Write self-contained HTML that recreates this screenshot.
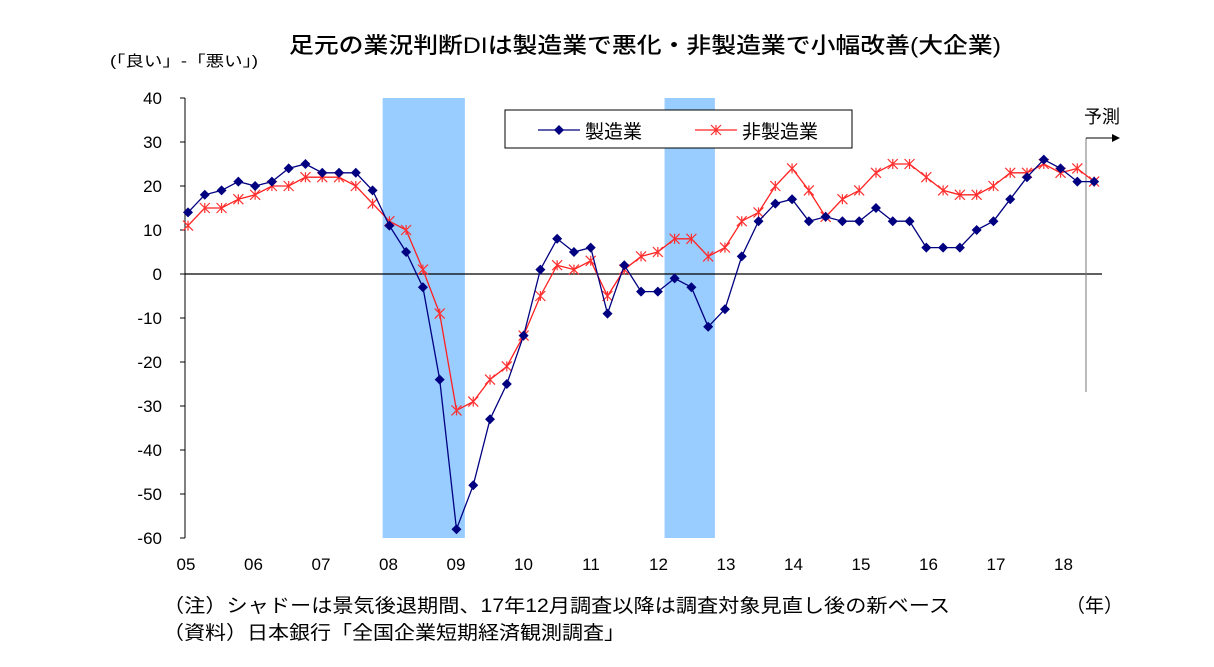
<!DOCTYPE html>
<html><head><meta charset="utf-8"><style>
body{margin:0;background:#fff;width:1214px;height:662px;overflow:hidden;font-family:"Liberation Sans","Noto Sans CJK JP",sans-serif}
</style></head><body>
<svg id="c" width="1214" height="662" xmlns="http://www.w3.org/2000/svg" font-family="Liberation Sans, Noto Sans CJK JP, sans-serif">
<text x="645" y="53" text-anchor="middle" font-size="22" font-weight="500" textLength="712" lengthAdjust="spacingAndGlyphs" fill="#000">足元の業況判断DIは製造業で悪化・非製造業で小幅改善(大企業)</text>
<text x="110" y="66" font-size="15" textLength="148" lengthAdjust="spacingAndGlyphs" fill="#000">(「良い」-「悪い」)</text>
<g id="plot"></g>
<text x="163" y="612" font-size="19" textLength="787" lengthAdjust="spacingAndGlyphs" fill="#000">（注）シャドーは景気後退期間、17年12月調査以降は調査対象見直し後の新ベース</text>
<text x="163" y="639" font-size="19" textLength="462" lengthAdjust="spacingAndGlyphs" fill="#000">（資料）日本銀行「全国企業短期経済観測調査」</text>
<text x="1066" y="612" font-size="19" fill="#000">（年）</text>
</svg>
<script>
const mfg=[14,18,19,21,20,21,24,25,23,23,23,19,11,5,-3,-24,-58,-48,-33,-25,-14,1,8,5,6,-9,2,-4,-4,-1,-3,-12,-8,4,12,16,17,12,13,12,12,15,12,12,6,6,6,10,12,17,22,26,24,21,21];
const nonMfg=[11,15,15,17,18,20,20,22,22,22,20,16,12,10,1,-9,-31,-29,-24,-21,-14,-5,2,1,3,-5,1,4,5,8,8,4,6,12,14,20,24,19,13,17,19,23,25,25,22,19,18,18,20,23,23,25,23,24,21];
const yTicks=[40,30,20,10,0,-10,-20,-30,-40,-50,-60];
const xLabels=["05","06","07","08","09","10","11","12","13","14","15","16","17","18"];
const shadows=[[11.6,16.5],[28.4,31.4]];
const NS="http://www.w3.org/2000/svg";
const g=document.getElementById('plot');
const y=v=>274-v*4.4;
const x=i=>188+i*16.78;
const yx=k=>186+k*67.5;
function el(t,a,p){const e=document.createElementNS(NS,t);for(const k in a)e.setAttribute(k,a[k]);(p||g).appendChild(e);return e;}
shadows.forEach(s=>{const r=el('rect',{x:x(s[0]),y:98,width:x(s[1])-x(s[0]),height:440,fill:'#99ccff'});

});
const ax=el('line',{x1:185,y1:98,x2:185,y2:538,stroke:'#000','stroke-width':1});


yTicks.forEach(v=>{el('line',{x1:180,x2:185,y1:y(v),y2:y(v),stroke:'#000'});
const t=el('text',{x:162,y:y(v)+6,'text-anchor':'end','font-size':17,fill:'#000'});t.textContent=v;

});
const z=el('line',{x1:185,x2:1102,y1:y(0),y2:y(0),stroke:'#000','stroke-width':1.3});


xLabels.forEach((l,k)=>{const t=el('text',{x:yx(k),y:570,'text-anchor':'middle','font-size':17,fill:'#000'});t.textContent=l;

});
el('line',{x1:1086,x2:1086,y1:138,y2:392,stroke:'#777'});
el('line',{x1:1086,x2:1112,y1:138,y2:138,stroke:'#000'});
el('path',{d:'M1112,134 L1120,138 L1112,142 Z',fill:'#000'});
const ft=el('text',{x:1084,y:123,'font-size':18,fill:'#000'});ft.textContent='予測';


function series(d,col,name,mk){
const p=el('polyline',{points:d.map((v,i)=>x(i)+','+y(v)).join(' '),fill:'none',stroke:col,'stroke-width':1.3});


d.forEach((v,i)=>{mk(x(i),y(v));});}
const diamond=(cx,cy)=>{const m=el('path',{d:`M${cx},${cy-5} L${cx+5},${cy} L${cx},${cy+5} L${cx-5},${cy} Z`,fill:'#000080'});

};
const star=(cx,cy)=>{const m=el('path',{d:`M${cx-5},${cy-5}L${cx+5},${cy+5}M${cx-5},${cy+5}L${cx+5},${cy-5}M${cx},${cy-5}L${cx},${cy+5}`,stroke:'#ff3030','stroke-width':1.2,fill:'none'});

};
series(nonMfg,'#ff2020','non-manufacturing',star);
series(mfg,'#000080','manufacturing',diamond);
const lg=el('rect',{x:505,y:110,width:347,height:38,fill:'#fff',stroke:'#000'});


el('line',{x1:538,x2:580,y1:130,y2:130,stroke:'#000080','stroke-width':1.3});diamond(559,130);
let t=el('text',{x:585,y:138,'font-size':19,fill:'#000'});t.textContent='製造業';


el('line',{x1:695,x2:737,y1:130,y2:130,stroke:'#ff2020','stroke-width':1.3});star(716,130);
t=el('text',{x:742,y:138,'font-size':19,fill:'#000'});t.textContent='非製造業';


</script>
</body></html>
